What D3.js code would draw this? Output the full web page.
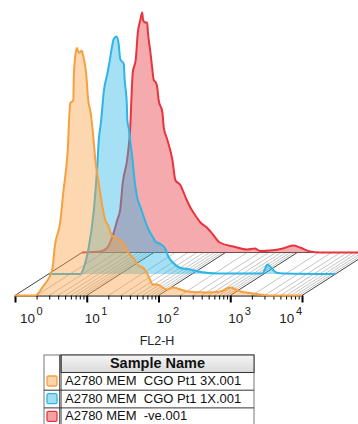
<!DOCTYPE html>
<html>
<head>
<meta charset="utf-8">
<script src="https://cdn.jsdelivr.net/npm/d3@7"></script>
<style>
  body { margin: 0; background: #fff; }
  text { font-family: "Liberation Sans", Arial, sans-serif; white-space: pre; }
</style>
</head>
<body>
<svg id="chart" width="358" height="424"></svg>
<script>
// Sample names, front to back
const sampleNames = ['A2780 MEM  CGO Pt1 3X.001', 'A2780 MEM  CGO Pt1 1X.001', 'A2780 MEM  -ve.001'];
const sampleColors = ['#f7a040', '#2cb5e6', '#e8343c'];

// FL2-H histograms (channel value, % of max)
const fl2Orange = [1, 1.9, 2.45, 3.3, 3.6, 4.3, 4.7, 5.4, 5.9, 6.5, 6.6, 7.1, 7.3, 7.8, 8.5, 8.9, 9.8, 10.5, 11.2, 11.7, 12.3, 13.2, 14.5, 16.2, 18.2, 20, 22.4, 26.3, 28.8, 33.9, 36.3, 44.7, 52.5, 61.7, 69, 76, 83, 95, 132, 158, 251, 479, 724, 1000, 1380, 2090, 3630, 10000];
const cntOrange = [0, 0, 3.6, 10.4, 20, 30, 41, 57, 77, 78, 88, 98, 99, 97, 98, 96, 89, 78, 74, 70, 64, 54, 46, 37, 30, 28, 24, 23, 22, 20, 18, 15, 12, 11, 9, 6.4, 4.4, 4.4, 2.4, 3.2, 1.6, 1.2, 1.6, 3.2, 1.6, 0.8, 0, 0];

const fl2Blue = [1, 2.8, 3.1, 3.6, 4.3, 4.8, 5.0, 5.4, 5.6, 5.9, 6.6, 7.1, 7.8, 8.1, 8.9, 9.5, 10, 11.2, 11.5, 12.3, 12.6, 13.2, 13.8, 14.8, 15.5, 17.4, 19, 22.4, 24.5, 28.2, 31, 36.3, 42.7, 46.8, 55, 69, 87, 132, 229, 479, 955, 1050, 1120, 1260, 1480, 1900, 10000];
const cntBlue = [0, 0, 2.6, 10, 26, 44, 53, 61, 66, 73, 80, 85, 92, 94, 95, 92, 86, 84, 78, 69, 61, 58, 53, 46, 40, 30, 27, 21, 18, 15, 13, 12, 10, 7, 4.4, 2.4, 2, 0.8, 0.2, 0.2, 0.2, 2.2, 3.8, 2.6, 0.6, 0.2, 0];

const fl2Red = [1, 1.8, 2.2, 2.7, 3.1, 3.4, 3.7, 4.3, 4.7, 5.0, 5.1, 5.6, 6.0, 6.5, 6.9, 7.1, 7.6, 8.1, 8.3, 8.9, 9.5, 10, 10.7, 11.2, 11.7, 13.2, 13.8, 15.5, 18.2, 20, 23.4, 28.8, 32.4, 39.8, 44.7, 55, 67.6, 83, 129, 200, 257, 302, 417, 631, 871, 1100, 1510, 2090, 10000];
const cntRed = [0, 0.4, 1.6, 7, 13, 17, 28, 38, 50, 68, 72, 77, 88, 93, 96, 93, 92, 92, 88, 81, 74, 69, 68, 66, 61, 56, 50, 45, 37, 29, 27, 21, 18, 14, 12, 10, 7, 4, 2.4, 1.2, 1.6, 0.6, 0.8, 1.6, 2.8, 2, 0.4, 0, 0];

const decadeLabels = ['0', '1', '2', '3', '4'];

const svg = d3.select('#chart');
const base = 295.5;               // front baseline
const depth = { dx: 67, dy: -43 }; // offset of back layer

const x = d3.scaleLog().domain([1, 10000]).range([15, 302]);
const h = d3.scaleLinear().domain([0, 100]).range([0, 250]);

// floor plane with hatch
const allTicks = x.ticks();
const decades = allTicks.filter(v => Math.abs(Math.log10(v) % 1) < 1e-9);
const plane = svg.append('g');
plane.append('path')
  .attr('d', `M${x(1)},${base}L${x(10000)},${base}L${x(10000) + depth.dx},${base + depth.dy}L${x(1) + depth.dx},${base + depth.dy}Z`)
  .attr('fill', '#fff');
plane.selectAll('.hatch')
  .data(allTicks.filter(v => !decades.includes(v)))
  .enter().append('line')
  .attr('x1', d => x(d)).attr('y1', base)
  .attr('x2', d => x(d) + depth.dx).attr('y2', base + depth.dy)
  .attr('stroke', '#aaa').attr('stroke-width', 0.7);
plane.selectAll('.dec')
  .data(decades)
  .enter().append('line')
  .attr('x1', d => x(d)).attr('y1', base)
  .attr('x2', d => x(d) + depth.dx).attr('y2', base + depth.dy)
  .attr('stroke', '#444').attr('stroke-width', 1);
plane.append('line')
  .attr('x1', x(1) + depth.dx).attr('y1', base + depth.dy)
  .attr('x2', x(10000) + depth.dx).attr('y2', base + depth.dy)
  .attr('stroke', '#555');

// histograms, back to front
const series = [
  { v: fl2Red, c: cntRed, color: sampleColors[2], k: 1 },
  { v: fl2Blue, c: cntBlue, color: sampleColors[1], k: 0.5 },
  { v: fl2Orange, c: cntOrange, color: sampleColors[0], k: 0 },
];

// front axis
const axis = svg.append('g')
  .attr('transform', `translate(0,${base})`)
  .call(d3.axisBottom(x).tickValues(allTicks).tickSize(4).tickSizeOuter(0).tickFormat(''));
axis.select('.domain').attr('stroke', '#000');
axis.selectAll('.tick line')
  .attr('stroke', '#000')
  .filter(d => decades.includes(d))
  .attr('y2', 7).attr('stroke-width', 2);

series.forEach(s => {
  const ox = depth.dx * s.k, y0 = base + depth.dy * s.k;
  const pts = s.v.map((v, i) => ({ v, c: s.c[i] }));
  const area = d3.area()
    .x(d => x(d.v) + ox).y0(y0).y1(d => y0 - h(d.c))
    .curve(d3.curveMonotoneX);
  const line = d3.line()
    .x(d => x(d.v) + ox).y(d => y0 - h(d.c))
    .curve(d3.curveMonotoneX);
  svg.append('path').datum(pts).attr('d', area)
    .attr('fill', s.color).attr('fill-opacity', 0.42);
  svg.append('path').datum(pts).attr('d', line)
    .attr('fill', 'none').attr('stroke', s.color).attr('stroke-width', 2)
    .attr('stroke-linejoin', 'round');
});

// decade labels
svg.selectAll('.dlab')
  .data(decades)
  .enter().append('text')
  .attr('x', (d, i) => i === 0 ? x(d) + 5 : (i === decades.length - 1 ? x(d) : x(d) - 2))
  .attr('y', 323)
  .attr('text-anchor', (d, i) => i === decades.length - 1 ? 'end' : 'start')
  .attr('font-size', 13.5)
  .attr('fill', '#222')
  .each(function (d, i) {
    const t = d3.select(this);
    t.append('tspan').text('10');
    t.append('tspan').attr('dy', -8).attr('dx', 1.5).attr('font-size', 11).text(decadeLabels[i]);
  });

svg.append('text')
  .attr('x', 157).attr('y', 345)
  .attr('text-anchor', 'middle')
  .attr('font-size', 12.5)
  .attr('fill', '#222')
  .text('FL2-H');

// legend table
const lg = svg.append('g');
const tx = 44, ty = 355, tw = 210, colW = 17, headH = 17.5, rowH = 17.7;
const grad = svg.append('defs').append('linearGradient')
  .attr('id', 'hdr').attr('x1', 0).attr('y1', 0).attr('x2', 0).attr('y2', 1);
grad.append('stop').attr('offset', 0).attr('stop-color', '#f6f6f6');
grad.append('stop').attr('offset', 1).attr('stop-color', '#d9d9d9');
lg.append('rect').attr('x', tx).attr('y', ty).attr('width', tw).attr('height', headH + rowH * 3 + 4)
  .attr('fill', '#fff').attr('stroke', '#777');
lg.append('rect').attr('x', tx + colW).attr('y', ty).attr('width', tw - colW).attr('height', headH)
  .attr('fill', 'url(#hdr)').attr('stroke', '#333');
lg.append('line').attr('x1', tx + colW - 1.5).attr('x2', tx + colW - 1.5)
  .attr('y1', ty).attr('y2', 424).attr('stroke', '#666');
lg.append('line').attr('x1', tx + colW).attr('x2', tx + colW)
  .attr('y1', ty).attr('y2', 424).attr('stroke', '#333');
lg.append('text')
  .attr('x', tx + colW + (tw - colW) / 2).attr('y', ty + 13)
  .attr('text-anchor', 'middle').attr('font-size', 14.5).attr('font-weight', 'bold')
  .attr('fill', '#111').text('Sample Name');
sampleNames.forEach((name, i) => {
  const ry = ty + headH + rowH * i;
  lg.append('line').attr('x1', tx).attr('x2', tx + tw)
    .attr('y1', ry + rowH).attr('y2', ry + rowH).attr('stroke', '#333');
  lg.append('rect').attr('x', tx + 3).attr('y', ry + 3.5).attr('width', 10).attr('height', 10)
    .attr('rx', 1.5).attr('fill', sampleColors[i]).attr('fill-opacity', 0.45)
    .attr('stroke', sampleColors[i]).attr('stroke-width', 1.3);
  lg.append('text').attr('x', tx + colW + 4).attr('y', ry + 12.5)
    .attr('font-size', 13).attr('fill', '#111').text(name);
});
</script>
</body>
</html>
